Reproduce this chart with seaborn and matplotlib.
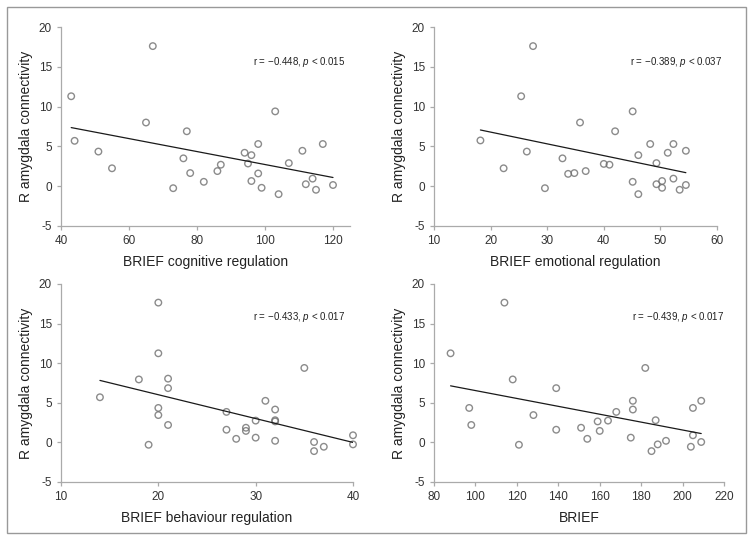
import numpy as np
import pandas as pd
import matplotlib
matplotlib.use("Agg")
import matplotlib.pyplot as plt
import seaborn as sns
from matplotlib.patches import Rectangle

# values
cog_x = [43, 44, 51, 55, 65, 67, 73, 76, 77, 78, 82, 86, 87, 94, 95, 96, 96, 98, 98, 99,
         103, 104, 107, 111, 112, 114, 115, 117, 120]
cog_y = [11.3, 5.7, 4.35, 2.25, 8.0, 17.6, -0.25, 3.5, 6.9, 1.65, 0.55, 1.9, 2.7, 4.2, 2.85, 3.9, 0.65, 5.3, 1.6, -0.2,
         9.4, -1.0, 2.9, 4.45, 0.25, 0.95, -0.45, 5.3, 0.15]

emo_x = [18.2, 22.3, 25.4, 26.4, 27.5, 29.6, 32.7, 33.7, 34.8, 35.8, 36.8, 40.0, 41.0, 42.0, 45.1, 45.1,
         46.1, 46.1, 48.2, 49.3, 49.3, 50.3, 50.3, 51.3, 52.3, 52.3, 53.4, 54.5, 54.5]
emo_y = [5.75, 2.25, 11.3, 4.35, 17.6, -0.25, 3.5, 1.55, 1.65, 8.0, 1.9, 2.8, 2.7, 6.9, 9.4, 0.55,
         -1.0, 3.9, 5.3, 2.9, 0.25, -0.2, 0.65, 4.2, 5.3, 0.95, -0.45, 4.45, 0.15]

beh_x = [14, 18, 19, 20, 20, 20, 20, 21, 21, 21, 27, 27, 28, 29, 29, 30, 30, 31, 32, 32, 32, 32,
         35, 36, 36, 37, 40, 40]
beh_y = [5.7, 7.95, -0.3, 17.65, 11.25, 4.35, 3.45, 8.05, 6.85, 2.2, 3.85, 1.6, 0.45, 1.85, 1.45, 2.75, 0.6, 5.25,
         4.15, 2.8, 2.65, 0.2, 9.4, 0.05, -1.1, -0.55, 0.9, -0.25]

tot_x = [88, 97, 98, 114, 118, 121, 128, 139, 139, 151, 154, 159, 160, 164, 168, 175, 176, 176,
         182, 185, 187, 188, 192, 204, 205, 205, 209, 209]
tot_y = [11.25, 4.35, 2.2, 17.65, 7.95, -0.3, 3.45, 6.85, 1.6, 1.85, 0.45, 2.65, 1.45, 2.75, 3.85, 0.6, 5.25, 4.15,
         9.4, -1.1, 2.8, -0.25, 0.2, -0.55, 4.35, 0.9, 5.25, 0.05]

x_labels = ["BRIEF cognitive regulation", "BRIEF emotional regulation",
            "BRIEF behaviour regulation", "BRIEF"]
stats_text = ["r = \u22120.448, $\\mathit{p}$ < 0.015", "r = \u22120.389, $\\mathit{p}$ < 0.037",
              "r = \u22120.433, $\\mathit{p}$ < 0.017", "r = \u22120.439, $\\mathit{p}$ < 0.017"]
x_ticks = [[40, 60, 80, 100, 120], [10, 20, 30, 40, 50, 60],
           [10, 20, 30, 40], [80, 100, 120, 140, 160, 180, 200, 220]]
x_limits = [(40, 125), (10, 60), (10, 40), (80, 220)]
y_ticks = [-5, 0, 5, 10, 15, 20]

sns.set_style("white")
plt.rcParams['font.family'] = ['Liberation Sans', 'DejaVu Sans']
plt.rcParams['mathtext.fontset'] = 'custom'
plt.rcParams['mathtext.rm'] = 'Liberation Sans'
plt.rcParams['mathtext.it'] = 'Liberation Sans:italic'
plt.rcParams['axes.unicode_minus'] = False

fig = plt.figure(figsize=(7.54, 5.41), dpi=100)
W, H = 754, 541
# axes boxes in pixels: left, top, right, bottom
boxes = [(61, 27, 350, 226), (434, 27, 717, 226), (61, 284, 353, 482), (434, 284, 724, 482)]
text_pos = [(0.983, 0.822), (1.018, 0.822), (0.973, 0.832), (1.0, 0.832)]

panels = [(cog_x, cog_y), (emo_x, emo_y), (beh_x, beh_y), (tot_x, tot_y)]
for i, (xs, ys) in enumerate(panels):
    l, t, r, b = boxes[i]
    ax = fig.add_axes([l / W, 1 - b / H, (r - l) / W, (b - t) / H])
    df = pd.DataFrame({'x': xs, 'y': ys})
    sns.regplot(x='x', y='y', data=df, ax=ax, ci=None, truncate=True,
                scatter_kws=dict(s=22, facecolors='none', edgecolors='#6e6e6e', linewidths=1.0, clip_on=False),
                line_kws=dict(color='#1a1a1a', lw=0.9))
    ax.set_xlim(*x_limits[i])
    ax.set_ylim(-5, 20)
    ax.set_xticks(x_ticks[i])
    ax.set_yticks(y_ticks)
    ax.set_xlabel(x_labels[i], fontsize=10, color='#222222', labelpad=6)
    ax.set_ylabel("R amygdala connectivity", fontsize=10, color='#222222', labelpad=4)
    for s in ['top', 'right']:
        ax.spines[s].set_visible(False)
    for s in ['left', 'bottom']:
        ax.spines[s].set_color('#aaaaaa')
        ax.spines[s].set_linewidth(0.9)
    ax.tick_params(axis='both', which='major', labelsize=8.5, colors='#aaaaaa', labelcolor='#333333',
                   direction='out', length=3, width=0.9, left=True, bottom=True)
    ax.text(text_pos[i][0], text_pos[i][1], stats_text[i], transform=ax.transAxes,
            ha='right', va='center', fontsize=7, color='#222222')

fig.patches.append(Rectangle((7 / W, 1 - 533 / H), (746 - 7) / W, (533 - 7) / H,
                             transform=fig.transFigure, fill=False, edgecolor='#999999', lw=1.0))

fig.savefig("out.png", dpi=100)
